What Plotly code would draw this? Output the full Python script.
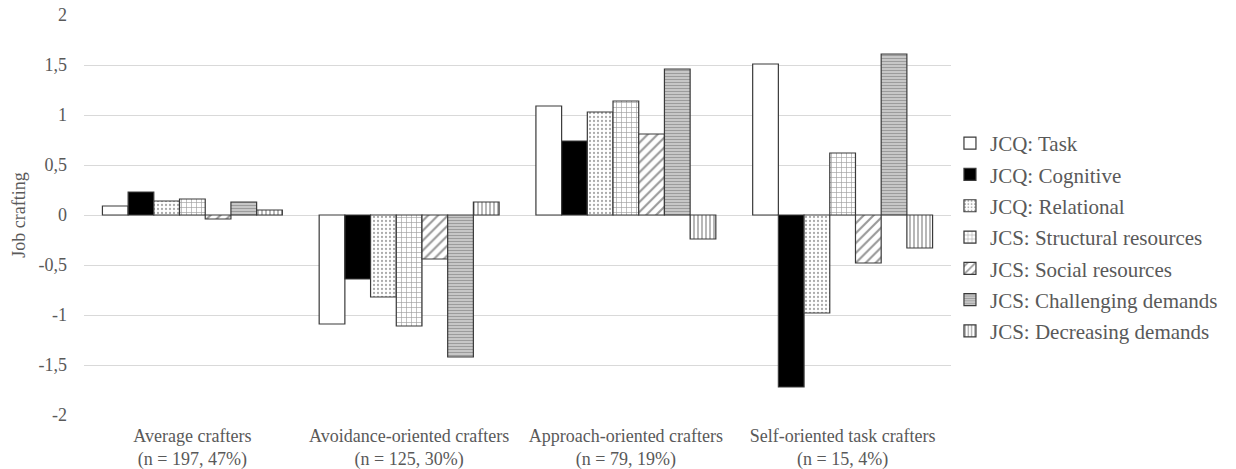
import plotly.graph_objects as go

categories = [
    "Average crafters<br>(n = 197, 47%)",
    "Avoidance-oriented crafters<br>(n = 125, 30%)",
    "Approach-oriented crafters<br>(n = 79, 19%)",
    "Self-oriented task crafters<br>(n = 15, 4%)",
]

series_names = [
    "JCQ: Task",
    "JCQ: Cognitive",
    "JCQ: Relational",
    "JCS: Structural resources",
    "JCS: Social resources",
    "JCS: Challenging demands",
    "JCS: Decreasing demands",
]

jcq_task = [0.09, -1.09, 1.09, 1.51]
jcq_cognitive = [0.23, -0.64, 0.74, -1.72]
jcq_relational = [0.14, -0.82, 1.03, -0.98]
jcs_structural = [0.16, -1.11, 1.14, 0.62]
jcs_social = [-0.04, -0.44, 0.81, -0.48]
jcs_challenging = [0.13, -1.42, 1.46, 1.61]
jcs_decreasing = [0.05, 0.13, -0.24, -0.33]

values = [jcq_task, jcq_cognitive, jcq_relational, jcs_structural,
          jcs_social, jcs_challenging, jcs_decreasing]

y_tickvals = [-2, -1.5, -1, -0.5, 0, 0.5, 1, 1.5, 2]
y_ticktext = ["-2", "-1,5", "-1", "-0,5", "0", "0,5", "1", "1,5", "2"]

styles = [
    dict(color="white", pattern=dict(shape="")),
    dict(color="black", pattern=dict(shape="")),
    dict(color="white", pattern=dict(shape=".", fgcolor="#555555", bgcolor="white", size=4, solidity=0.25)),
    dict(color="white", pattern=dict(shape="+", fgcolor="#444444", bgcolor="white", size=5, solidity=0.25)),
    dict(color="white", pattern=dict(shape="/", fgcolor="#333333", bgcolor="white", size=7, solidity=0.3)),
    dict(color="white", pattern=dict(shape="-", fgcolor="#6a6a6a", bgcolor="#cfcfcf", size=3, solidity=0.45)),
    dict(color="white", pattern=dict(shape="|", fgcolor="#333333", bgcolor="white", size=4, solidity=0.35)),
]

fig = go.Figure()
for name, vals, st in zip(series_names, values, styles):
    fig.add_trace(go.Bar(
        x=categories, y=vals, name=name, legendgroup=name,
        marker=dict(color=st["color"], pattern=st["pattern"],
                    line=dict(color="#3a3a3a", width=1.2)),
    ))

font_family = "'Liberation Serif', 'Times New Roman', Times, 'DejaVu Serif', serif"
fig.update_layout(
    width=1236, height=469,
    barmode="group", bargap=0.17, bargroupgap=0,
    plot_bgcolor="white", paper_bgcolor="white",
    margin=dict(l=84, r=285, t=15, b=54),
    font=dict(family=font_family, size=18, color="#595959"),
    legend=dict(x=0.9988, y=0.73, xanchor="left", yanchor="top",
                bgcolor="rgba(0,0,0,0)",
                font=dict(family=font_family, size=21, color="#595959"),
                itemwidth=30, tracegroupgap=1),
    showlegend=True,
)
fig.update_yaxes(range=[-2, 2], tickvals=y_tickvals, ticktext=y_ticktext,
                 showgrid=True, gridcolor="#d9d9d9", gridwidth=1,
                 zeroline=True, zerolinecolor="#d9d9d9", zerolinewidth=1,
                 ticks="", ticklabelstandoff=16, automargin=False,
                 ticklabeloverflow="allow",
                 title=dict(text="Job crafting", font=dict(family=font_family, size=18, color="#595959"), standoff=8),
                 tickfont=dict(family=font_family, size=18, color="#595959"))
fig.update_xaxes(showgrid=False, showline=False, ticks="", automargin=False,
                 ticklabelstandoff=8,
                 tickfont=dict(family=font_family, size=18, color="#595959"))

fig.write_html("out.html", config={"displayModeBar": False},
               post_script="document.body.style.margin='0';")
